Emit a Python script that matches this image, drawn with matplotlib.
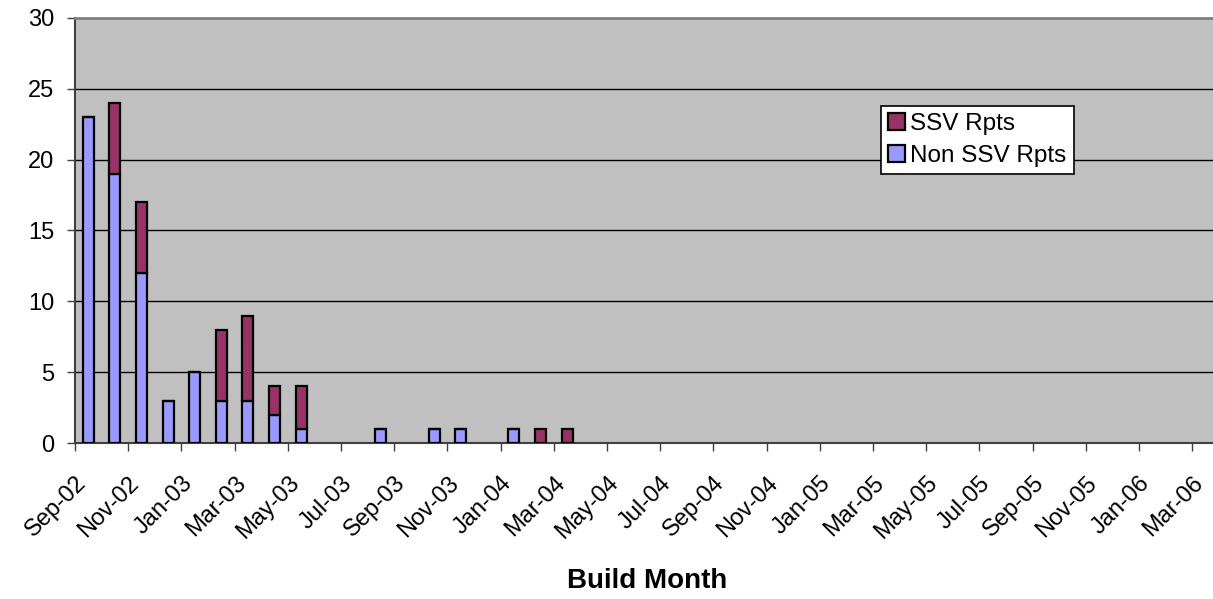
import matplotlib
matplotlib.use('Agg')
import matplotlib.pyplot as plt
import matplotlib.transforms as mtransforms
import numpy as np

plt.rcParams['font.family'] = ['Liberation Sans', 'DejaVu Sans']

# months from Sep-02 to Mar-06, one slot each
month_labels = ['Sep-02', 'Nov-02', 'Jan-03', 'Mar-03', 'May-03', 'Jul-03',
                'Sep-03', 'Nov-03', 'Jan-04', 'Mar-04', 'May-04', 'Jul-04',
                'Sep-04', 'Nov-04', 'Jan-05', 'Mar-05', 'May-05', 'Jul-05',
                'Sep-05', 'Nov-05', 'Jan-06', 'Mar-06']

# month index (0 = Sep-02) and counts per month
bar_months = [0, 1, 2, 3, 4, 5, 6, 7, 8, 11, 13, 14, 16, 17, 18]
non_ssv = [23, 19, 12, 3, 5, 3, 3, 2, 1, 1, 1, 1, 1, 0, 0]
ssv = [0, 5, 5, 0, 0, 5, 6, 2, 3, 0, 0, 0, 0, 1, 1]

n_months = 43

fig = plt.figure(figsize=(12.13, 5.99), dpi=100)
W, H = 1213, 599
px_month = 26.6
ax = fig.add_axes([75 / W, (H - 443) / H, n_months * px_month / W, 425 / H])
ax.set_facecolor('#C0C0C0')

x = np.array(bar_months) + 0.5
ax.bar(x, non_ssv, width=0.42, color='#9999FF', edgecolor='black',
       linewidth=1.6, label='Non SSV Rpts', zorder=3)
ax.bar(x, ssv, width=0.42, bottom=non_ssv, color='#993366',
       edgecolor='black', linewidth=1.6, label='SSV Rpts', zorder=3)

ax.set_xlim(0, n_months)
ax.set_ylim(0, 30)
ax.set_yticks(range(0, 31, 5))
ax.set_xticks(range(0, 43, 2))
ax.set_xticklabels(month_labels, rotation=45, ha='right', va='top',
                   rotation_mode='anchor')
shift = mtransforms.ScaledTranslation(-6 / 100, -2 / 100, fig.dpi_scale_trans)
for lbl in ax.get_xticklabels():
    lbl.set_transform(lbl.get_transform() + shift)
ax.yaxis.grid(True, color='black', linewidth=1, zorder=0)
ax.set_axisbelow(True)

for side in ['top', 'right']:
    ax.spines[side].set_color('#808080')
    ax.spines[side].set_linewidth(2)
ax.spines['left'].set_color('#404040')
ax.spines['bottom'].set_color('#404040')
ax.spines['left'].set_linewidth(1.5)
ax.spines['bottom'].set_linewidth(1.5)

ax.tick_params(axis='both', direction='out', length=6, width=1,
               color='#404040', labelsize=17)
ax.tick_params(axis='y', pad=9)
ax.tick_params(axis='x', pad=15)

ax.set_xlabel('Build Month', fontsize=20, fontweight='bold', labelpad=18)

handles, labels = ax.get_legend_handles_labels()
leg = ax.legend(handles[::-1], labels[::-1], loc='upper left',
                bbox_to_anchor=((881 - 75) / (n_months * px_month), (443 - 106) / 425),
                fontsize=17.5, frameon=True, fancybox=False, framealpha=1,
                edgecolor='black', handlelength=0.7, handleheight=0.7,
                handletextpad=0.2, borderpad=0.3, labelspacing=0.4,
                borderaxespad=0)
leg.get_frame().set_linewidth(1.2)

fig.savefig('out.png', dpi=100)
